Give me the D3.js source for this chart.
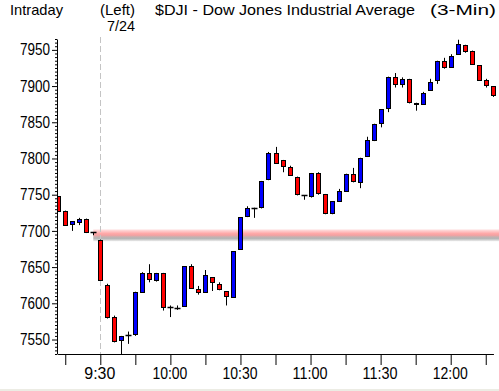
<!DOCTYPE html>
<html>
<head>
<meta charset="utf-8">
<script src="https://cdn.jsdelivr.net/npm/d3@7/dist/d3.min.js"></script>
<style>
  html, body { margin: 0; padding: 0; background: #ffffff; }
  svg { display: block; }
  text { font-family: "Liberation Sans", Arial, sans-serif; fill: #000; }
</style>
</head>
<body>
<script>
// ---- Data (3-minute candles; first 6 are previous session 7/24 close) ----
const times = ["15:42","15:45","15:48","15:51","15:54","15:57",
  "9:30","9:33","9:36","9:39","9:42","9:45","9:48","9:51","9:54","9:57",
  "10:00","10:03","10:06","10:09","10:12","10:15","10:18","10:21","10:24","10:27",
  "10:30","10:33","10:36","10:39","10:42","10:45","10:48","10:51","10:54","10:57",
  "11:00","11:03","11:06","11:09","11:12","11:15","11:18","11:21","11:24","11:27",
  "11:30","11:33","11:36","11:39","11:42","11:45","11:48","11:51","11:54","11:57",
  "12:00","12:03","12:06","12:09","12:12","12:15","12:18"];
const opens  = [7748,7727,7709,7712,7717,7698,
  7688,7625,7581,7550,7556,7557,7616,7642,7632,7642,
  7595,7594,7596,7651,7620,7616,7636,7627,7617,7609,
  7675,7720,7732,7733,7771,7808,7798,7788,7775,7749,
  7748,7780,7751,7725,7741,7755,7779,7767,7803,7826,
  7849,7870,7913,7903,7910,7877,7875,7895,7908,7935,
  7927,7944,7957,7948,7929,7908,7900];
const highs  = [7748,7728,7713,7718,7717,7698,
  7688,7627,7583,7555,7561,7616,7643,7654,7642,7642,
  7597,7597,7651,7654,7624,7646,7636,7629,7617,7672,
  7719,7734,7732,7769,7809,7816,7798,7790,7775,7749,
  7780,7781,7751,7741,7758,7779,7787,7801,7830,7848,
  7868,7913,7918,7912,7910,7877,7892,7910,7935,7939,
  7944,7964,7957,7949,7929,7910,7900];
const lows   = [7727,7707,7700,7708,7697,7694,
  7632,7579,7546,7530,7544,7555,7615,7629,7630,7590,
  7581,7591,7595,7620,7612,7615,7617,7618,7597,7608,
  7674,7719,7718,7731,7770,7793,7781,7776,7749,7743,
  7746,7750,7723,7723,7740,7754,7767,7759,7802,7824,
  7843,7864,7898,7898,7876,7866,7874,7894,7903,7924,
  7926,7943,7946,7930,7907,7898,7885];
const closes = [7727,7708,7713,7717,7698,7698,
  7632,7581,7548,7555,7556,7616,7642,7633,7642,7595,
  7595,7594,7651,7621,7616,7639,7629,7620,7610,7672,
  7719,7731,7732,7769,7807,7794,7789,7777,7751,7749,
  7780,7752,7725,7741,7755,7779,7769,7801,7826,7848,
  7868,7913,7903,7910,7878,7875,7891,7906,7935,7927,
  7942,7958,7948,7931,7909,7902,7887];
const prevSessionCount = 6;      // candles before the 9:30 open
const prevClose = 7698;          // previous close level (band)
const yTicks = [7550,7600,7650,7700,7750,7800,7850,7900,7950];
const xTickSlots = [-5,0,5,10,15,20,25,30,35,40,45,50,55];
const xLabels = {0:"9:30",10:"10:00",20:"10:30",30:"11:00",40:"11:30",50:"12:00"};

const candles = times.map((t,i)=>({t, slot:i-prevSessionCount, o:opens[i], h:highs[i], l:lows[i], c:closes[i]}));

// ---- Layout ----
const W = 499, H = 391;
const step = 7.008, x0 = 100.3;
const x = d3.scaleLinear().domain([-6.1, 56.1]).range([x0 - 6.1*step, x0 + 56.1*step]);
const y = d3.scaleLinear().domain([7530, 7965]).range([354, 39]);

const svg = d3.select("body").append("svg").attr("width", W).attr("height", H);
svg.append("rect").attr("width", W).attr("height", H).attr("fill", "#ffffff");
svg.append("rect").attr("x", 0).attr("y", 389).attr("width", W).attr("height", 2).attr("fill", "#ecece4");

const defs = svg.append("defs");
const g = defs.append("linearGradient").attr("id","band").attr("x1",0).attr("y1",0).attr("x2",0).attr("y2",1);
[[0,"#fde6e6"],[0.15,"#ffcaca"],[0.35,"#ffa8a8"],[0.5,"#f2a2a2"],[0.62,"#c8b0b0"],[0.75,"#b4b4b4"],[0.88,"#d0d0d0"],[1,"#f2f2f2"]]
  .forEach(([o,c])=>g.append("stop").attr("offset",o).attr("stop-color",c));
defs.append("clipPath").attr("id","plot").append("rect")
  .attr("x", 57.5).attr("y", 30).attr("width", W-57.5).attr("height", 354-30);

// previous-close band
const yc = y(prevClose);
svg.append("rect").attr("x", x(-1)).attr("y", yc-3).attr("width", W - x(-1)).attr("height", 12)
  .attr("fill","url(#band)");

// session divider (dashed)
svg.append("line").attr("x1", Math.round(x(0))+0.5).attr("x2", Math.round(x(0))+0.5)
  .attr("y1", 37).attr("y2", 354).attr("stroke","#c4c4c4").attr("stroke-dasharray","6,3");

// candles
const cg = svg.append("g").attr("clip-path","url(#plot)");
const cx = d => Math.round(x(d.slot)) + 0.5;
cg.selectAll("line.wick").data(candles).join("line").attr("class","wick")
  .attr("x1", cx).attr("x2", cx)
  .attr("y1", d=>y(d.h)).attr("y2", d=>y(d.l))
  .attr("stroke","#000").attr("stroke-width",1);
cg.selectAll("rect.body").data(candles.filter(d=>d.o!==d.c)).join("rect").attr("class","body")
  .attr("x", d=>cx(d)-2).attr("width", 4)
  .attr("y", d=>Math.round(y(Math.max(d.o,d.c)))+0.5)
  .attr("height", d=>Math.max(1, Math.round(y(Math.min(d.o,d.c))) - Math.round(y(Math.max(d.o,d.c)))))
  .attr("fill", d=> d.c>d.o ? "#0000ff" : "#ff0000")
  .attr("stroke","#000").attr("stroke-width",1);
cg.selectAll("line.doji").data(candles.filter(d=>d.o===d.c)).join("line").attr("class","doji")
  .attr("x1", d=>cx(d)-3).attr("x2", d=>cx(d)+3)
  .attr("y1", d=>Math.round(y(d.o))+0.5).attr("y2", d=>Math.round(y(d.o))+0.5)
  .attr("stroke","#000").attr("stroke-width",1.5);

// y axis: minor + major
const minor = d3.range(7530, 7966, 5).filter(v=>v%50!==0);
svg.append("g").attr("transform","translate(57,0)")
  .call(d3.axisLeft(y).tickValues(minor).tickSize(2).tickFormat("").tickSizeOuter(0))
  .call(a=>a.select(".domain").remove());
const ya = svg.append("g").attr("transform","translate(57,0)")
  .call(d3.axisLeft(y).tickValues(yTicks).tickSize(5).tickPadding(2).tickSizeOuter(0).tickFormat(d3.format("d")));
ya.selectAll("text").attr("font-size",16).attr("font-family",null)
  .attr("textLength",30).attr("lengthAdjust","spacingAndGlyphs");

// x axis
const xa = svg.append("g").attr("transform","translate(0,354)")
  .call(d3.axisBottom(x).tickValues(xTickSlots).tickSize(11).tickPadding(3).tickSizeOuter(0)
    .tickFormat(s => xLabels[s] || ""));
xa.selectAll("text").attr("font-size",16).attr("font-family",null).attr("dx","-1")
  .attr("textLength", d => xLabels[d] ? (xLabels[d].length===4 ? 31 : 35) : null)
  .attr("lengthAdjust","spacingAndGlyphs");
svg.selectAll(".tick line, .domain").attr("stroke","#000");

// header texts
const hdr = [
  {t:"Intraday", x:10, y:15, w:53, fs:15},
  {t:"(Left)", x:100, y:15, w:35, fs:14},
  {t:"7/24", x:107, y:31, w:28, fs:14},
  {t:"$DJI - Dow Jones Industrial Average", x:155, y:15, w:260, fs:15},
  {t:"(3-Min)", x:430, y:15, w:66, fs:15}
];
svg.selectAll("text.hdr").data(hdr).join("text").attr("class","hdr")
  .attr("x", d=>d.x).attr("y", d=>d.y).attr("font-size", d=>d.fs)
  .attr("textLength", d=>d.w).attr("lengthAdjust","spacingAndGlyphs")
  .text(d=>d.t);
</script>
</body>
</html>
